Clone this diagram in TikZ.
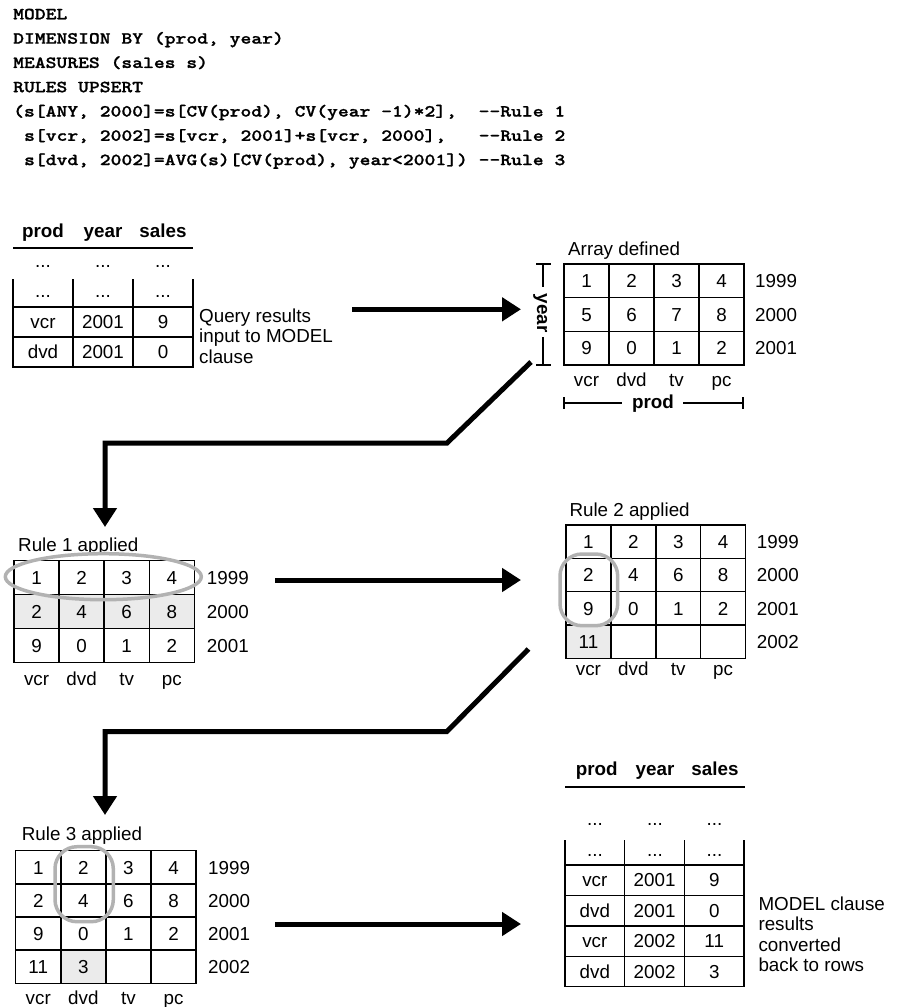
\documentclass[tikz,border=0pt]{standalone}
\usepackage{fontspec}
\setmainfont{Liberation Sans}
\newfontfamily\codefont{lmmonolt10-bold}[Extension=.otf, FakeStretch=1.22, FakeBold=1.2]
\usetikzlibrary{arrows.meta}
\definecolor{gfill}{RGB}{235,235,235}
\definecolor{ringc}{RGB}{178,178,178}
% #1 name, #2 x0, #3 y0, #4 cell width, #5 cell height, #6 list row/col/value/style
\newcommand\gridcells[6]{%
  \foreach \r/\c/\v/\s in {#6} {%
    \node[cell, \s, minimum width=#4pt, minimum height=#5pt] (#1-\r-\c)
      at ({#2+(\c-0.5)*#4}, {#3+(\r-0.5)*#5}) {\v};
  }%
}
\begin{document}
\begin{tikzpicture}[x=1pt,y=-1pt,
  txt/.style={font=\fontsize{18.8}{21}\selectfont, inner sep=0pt},
  btxt/.style={font=\fontsize{18.8}{21}\selectfont\bfseries, inner sep=0pt},
  code/.style={font=\codefont\fontsize{16.9}{20}\selectfont, inner sep=0pt, anchor=base west},
  cell/.style={draw, line width=1.4pt, inner sep=0pt, font=\fontsize{18.8}{21}\selectfont,
               text height=13.46pt, text depth=0pt},
  cellplain/.style={},
  cellshade/.style={fill=gfill},
  tline/.style={line width=1.4pt},
  hrule/.style={line width=1.8pt},
  conn/.style={line width=5pt, -{Triangle[length=19pt,width=23pt]}},
  ringst/.style={draw=ringc, line width=3.5pt},
]
\useasboundingbox (0,0) rectangle (897,1007);
\frenchspacing
% ---------------- code ----------------
\node[code] (l1) at (13,19.3) {MODEL};
\node[code] (l2) at (13,43.6) {DIMENSION BY (prod, year)};
\node[code] (l3) at (13,67.9) {MEASURES (sales s)};
\node[code] (l4) at (13,92.2) {RULES UPSERT};
\node[code] (l5) at (13,116.5) {(s[ANY, 2000]=s[CV(prod), CV(year -1)*2],~~-{}-Rule 1};
\node[code] (l6) at (23.9,140.8) {s[vcr, 2002]=s[vcr, 2001]+s[vcr, 2000],~~~-{}-Rule 2};
\node[code] (l7) at (23.9,165.1) {s[dvd, 2002]=AVG(s)[CV(prod), year<2001]) -{}-Rule 3};

% ---------------- query results table ----------------
\node[btxt, anchor=base] (q-h1) at (43,237) {prod};
\node[btxt, anchor=base] (q-h2) at (103,237) {year};
\node[btxt, anchor=base] (q-h3) at (163,237) {sales};
\draw[hrule] (13,248) -- (193,248);
\foreach \i/\x in {1/43,2/103,3/163} {
  \node[txt, anchor=base] (q-d1\i) at (\x,267.3) {...};
  \node[txt, anchor=base] (q-d2\i) at (\x,297.3) {...};
}
\foreach \x in {13,73,133,193} \draw[tline] (\x,279) -- (\x,307);
\gridcells{q}{13}{307}{60}{30}{1/1/vcr/cellplain,1/2/2001/cellplain,1/3/9/cellplain,
  2/1/dvd/cellplain,2/2/2001/cellplain,2/3/0/cellplain}
\node[txt, anchor=base west] (q-l1) at (199,322) {Query results};
\node[txt, anchor=base west] (q-l2) at (199,342.7) {input to MODEL};
\node[txt, anchor=base west] (q-l3) at (199,363.4) {clause};

% ---------------- array defined ----------------
\node[txt, anchor=base west] (a-t) at (568,255) {Array defined};
\gridcells{a}{564}{264}{45}{33.67}{1/1/1/cellplain,1/2/2/cellplain,1/3/3/cellplain,1/4/4/cellplain,
  2/1/5/cellplain,2/2/6/cellplain,2/3/7/cellplain,2/4/8/cellplain,
  3/1/9/cellplain,3/2/0/cellplain,3/3/1/cellplain,3/4/2/cellplain}
\foreach \r/\y in {1/1999,2/2000,3/2001}
  \node[txt, anchor=base west] (a-y\r) at (755,{264+(\r-0.5)*33.67+6.73}) {\y};
\foreach \c/\p in {1/vcr,2/dvd,3/tv,4/pc}
  \node[txt, anchor=base] (a-p\c) at ({564+(\c-0.5)*45},386) {\p};
\node[btxt, anchor=base] (a-prod) at (653,408) {prod};
\draw[tline] (564,403) -- (622,403);
\draw[tline] (683,403) -- (743,403);
\draw[tline] (564,397) -- (564,409);
\draw[tline] (743,397) -- (743,409);
\node[btxt, rotate=-90, anchor=base] (a-year) at (537,313) {year};
\draw[tline] (543,264) -- (543,287);
\draw[tline] (543,337) -- (543,365);
\draw[tline] (536,264) -- (551,264);
\draw[tline] (536,365) -- (551,365);

% arrow 1
\coordinate (a1s) at (352,309.3);
\coordinate (a1e) at (521,309.3);
\draw[conn] (a1s) -- (a1e);

% connector 1
\coordinate (c1a) at (531,362);
\coordinate (c1b) at (447,443);
\coordinate (c1c) at (105,443);
\coordinate (c1d) at (105,527);
\draw[conn] (c1a) -- (c1b) -- (c1c) -- (c1d);

% ---------------- rule 1 ----------------
\node[txt, anchor=base west] (r1-t) at (18,551.7) {Rule 1 applied};
\gridcells{r1}{14}{560.7}{45.07}{33.87}{1/1/1/cellplain,1/2/2/cellplain,1/3/3/cellplain,1/4/4/cellplain,
  2/1/2/cellshade,2/2/4/cellshade,2/3/6/cellshade,2/4/8/cellshade,
  3/1/9/cellplain,3/2/0/cellplain,3/3/1/cellplain,3/4/2/cellplain}
\foreach \r/\y in {1/1999,2/2000,3/2001}
  \node[txt, anchor=base west] (r1-y\r) at (206.7,{560.7+(\r-0.5)*33.87+6.73}) {\y};
\foreach \c/\p in {1/vcr,2/dvd,3/tv,4/pc}
  \node[txt, anchor=base] (r1-p\c) at ({14+(\c-0.5)*45.07},685) {\p};
\draw[ringst] (103.3,576.7) ellipse [x radius=98, y radius=23];

% arrow 2
\coordinate (a2s) at (275,580);
\coordinate (a2e) at (521,580);
\draw[conn] (a2s) -- (a2e);

% ---------------- rule 2 ----------------
\node[txt, anchor=base west] (r2-t) at (569.3,516.7) {Rule 2 applied};
\gridcells{r2}{566}{525}{44.9}{33.33}{1/1/1/cellplain,1/2/2/cellplain,1/3/3/cellplain,1/4/4/cellplain,
  2/1/2/cellplain,2/2/4/cellplain,2/3/6/cellplain,2/4/8/cellplain,
  3/1/9/cellplain,3/2/0/cellplain,3/3/1/cellplain,3/4/2/cellplain,
  4/1/11/cellshade,4/2/{}/cellplain,4/3/{}/cellplain,4/4/{}/cellplain}
\foreach \r/\y in {1/1999,2/2000,3/2001,4/2002}
  \node[txt, anchor=base west] (r2-y\r) at (756.7,{525+(\r-0.5)*33.33+6.73}) {\y};
\foreach \c/\p in {1/vcr,2/dvd,3/tv,4/pc}
  \node[txt, anchor=base] (r2-p\c) at ({566+(\c-0.5)*44.9},675) {\p};
\draw[ringst, rounded corners=22pt] (560,554) rectangle (617.7,625.7);

% connector 2
\coordinate (c2a) at (528.5,649);
\coordinate (c2b) at (446.7,731.7);
\coordinate (c2c) at (105,731.7);
\coordinate (c2d) at (105,815);
\draw[conn] (c2a) -- (c2b) -- (c2c) -- (c2d);

% ---------------- rule 3 ----------------
\node[txt, anchor=base west] (r3-t) at (21.7,840) {Rule 3 applied};
\gridcells{r3}{15.7}{850.7}{45.1}{33.15}{1/1/1/cellplain,1/2/2/cellplain,1/3/3/cellplain,1/4/4/cellplain,
  2/1/2/cellplain,2/2/4/cellplain,2/3/6/cellplain,2/4/8/cellplain,
  3/1/9/cellplain,3/2/0/cellplain,3/3/1/cellplain,3/4/2/cellplain,
  4/1/11/cellplain,4/2/3/cellshade,4/3/{}/cellplain,4/4/{}/cellplain}
\foreach \r/\y in {1/1999,2/2000,3/2001,4/2002}
  \node[txt, anchor=base west] (r3-y\r) at (208,{850.7+(\r-0.5)*33.15+6.73}) {\y};
\foreach \c/\p in {1/vcr,2/dvd,3/tv,4/pc}
  \node[txt, anchor=base] (r3-p\c) at ({15.7+(\c-0.5)*45.1},1004) {\p};
\draw[ringst, rounded corners=22pt] (55,846.7) rectangle (113.3,921.7);

% arrow 3
\coordinate (a3s) at (275,924);
\coordinate (a3e) at (521,924);
\draw[conn] (a3s) -- (a3e);

% ---------------- final table ----------------
\node[btxt, anchor=base] (f-h1) at (596.7,775) {prod};
\node[btxt, anchor=base] (f-h2) at (655,775) {year};
\node[btxt, anchor=base] (f-h3) at (715,775) {sales};
\draw[hrule] (565,787.3) -- (745,787.3);
\foreach \i/\x in {1/595,2/655,3/714.5} {
  \node[txt, anchor=base] (f-d1\i) at (\x,825.3) {...};
  \node[txt, anchor=base] (f-d2\i) at (\x,856.3) {...};
}
\foreach \x in {565,624.7,684.4,744.1} \draw[tline] (\x,840) -- (\x,865);
\gridcells{f}{565}{865}{59.7}{30.4}{1/1/vcr/cellplain,1/2/2001/cellplain,1/3/9/cellplain,
  2/1/dvd/cellplain,2/2/2001/cellplain,2/3/0/cellplain,
  3/1/vcr/cellplain,3/2/2002/cellplain,3/3/11/cellplain,
  4/1/dvd/cellplain,4/2/2002/cellplain,4/3/3/cellplain}
\node[txt, anchor=base west] (f-l1) at (758.3,910) {MODEL clause};
\node[txt, anchor=base west] (f-l2) at (758.3,930.5) {results};
\node[txt, anchor=base west] (f-l3) at (758.3,951) {converted};
\node[txt, anchor=base west] (f-l4) at (758.3,971.5) {back to rows};
\end{tikzpicture}
\end{document}
